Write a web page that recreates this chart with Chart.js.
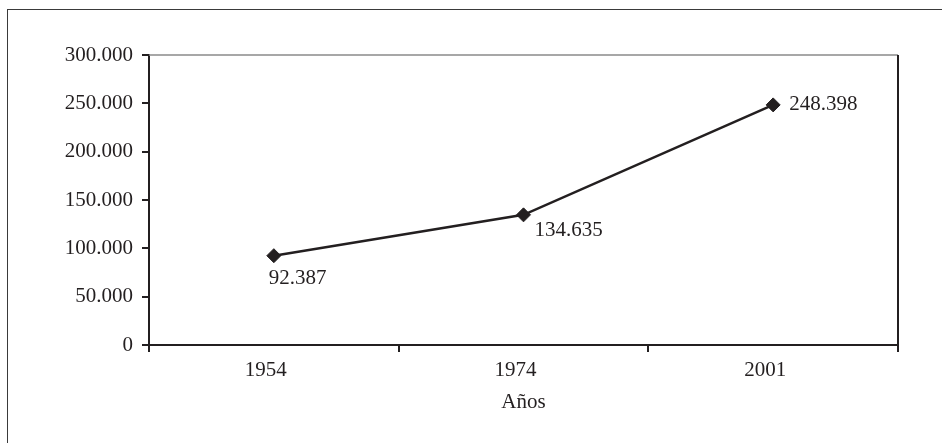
<!DOCTYPE html>
<html>
<head>
<meta charset="utf-8">
<script src="https://cdn.jsdelivr.net/npm/chart.js@4/dist/chart.umd.min.js"></script>
<style>
  html, body { margin: 0; padding: 0; background: #ffffff; }
  #wrap { position: relative; width: 942px; height: 443px; }
  #frame { position: absolute; left: 7px; top: 9px; right: -2px; bottom: -2px;
           border-left: 1px solid #3a3a3a; border-top: 1px solid #3a3a3a; }
  canvas { position: absolute; left: 0; top: 0; }
</style>
</head>
<body>
<div id="wrap">
  <div id="frame"></div>
  <canvas id="c" width="942" height="443"></canvas>
</div>
<script>
// Población por año de censo
const years = ['1954', '1974', '2001'];
const population = [92387, 134635, 248398];
const yTicks = [0, 50000, 100000, 150000, 200000, 250000, 300000];

const INK = '#231f20';
const FONT = "'Liberation Serif', 'Times New Roman', serif";

const fmt = v => v.toLocaleString('de-DE');

// Etiquetas de valor junto a cada marcador
const valueLabels = {
  id: 'valueLabels',
  afterDatasetsDraw(chart) {
    const ctx = chart.ctx;
    const meta = chart.getDatasetMeta(0);
    // desplazamiento de cada etiqueta respecto al punto: [dx, dy, alineación]
    const place = [[-5, 23, 'left'], [11, 16, 'left'], [16, 0, 'left']];
    ctx.save();
    ctx.font = '21px ' + FONT;
    ctx.fillStyle = INK;
    ctx.textBaseline = 'middle';
    meta.data.forEach((pt, i) => {
      const [dx, dy, al] = place[i];
      ctx.textAlign = al;
      ctx.fillText(fmt(population[i]), pt.x + dx, pt.y + dy);
    });
    ctx.restore();
  }
};

// Bordes superior y derecho del área de trazado
const plotBox = {
  id: 'plotBox',
  beforeDatasetsDraw(chart) {
    const { ctx, chartArea: a } = chart;
    ctx.save();
    ctx.strokeStyle = '#8a8a8a';
    ctx.lineWidth = 1.5;
    ctx.beginPath();
    ctx.moveTo(a.left, a.top);
    ctx.lineTo(a.right, a.top);
    ctx.stroke();
    ctx.strokeStyle = INK;
    ctx.lineWidth = 2;
    ctx.beginPath();
    ctx.moveTo(a.right, a.top);
    ctx.lineTo(a.right, a.bottom + 7);
    ctx.stroke();
    ctx.restore();
  }
};

new Chart(document.getElementById('c'), {
  type: 'line',
  data: {
    labels: years,
    datasets: [{
      data: population,
      borderColor: INK,
      borderWidth: 2.5,
      backgroundColor: INK,
      pointStyle: 'rectRot',
      pointRadius: 7,
      pointBorderWidth: 1,
      pointBackgroundColor: INK,
      pointBorderColor: INK,
      tension: 0
    }]
  },
  options: {
    responsive: false,
    animation: false,
    devicePixelRatio: 1,
    layout: { padding: { top: 55, right: 44, left: 0, bottom: 0 } },
    plugins: { legend: { display: false }, tooltip: { enabled: false } },
    scales: {
      x: {
        type: 'category',
        offset: true,
        grid: { offset: true, drawOnChartArea: false, tickLength: 7, color: INK, lineWidth: 2 },
        border: { color: INK, width: 2 },
        ticks: { color: INK, font: { family: FONT, size: 21 }, padding: 6, labelOffset: -8, maxRotation: 0 },
        title: { display: true, text: 'Años', color: INK, font: { family: FONT, size: 21 }, padding: { top: 4, bottom: 28 } },
        afterFit(s) { s.height = 98; }
      },
      y: {
        min: 0,
        max: 300000,
        afterBuildTicks(s) { s.ticks = yTicks.map(v => ({ value: v })); },
        grid: { drawOnChartArea: false, tickLength: 7, color: INK, lineWidth: 2 },
        border: { color: INK, width: 2 },
        ticks: { color: INK, font: { family: FONT, size: 21 }, padding: 9, callback: v => fmt(v) },
        afterFit(s) { s.width = 149; }
      }
    }
  },
  plugins: [plotBox, valueLabels]
});
</script>
</body>
</html>
